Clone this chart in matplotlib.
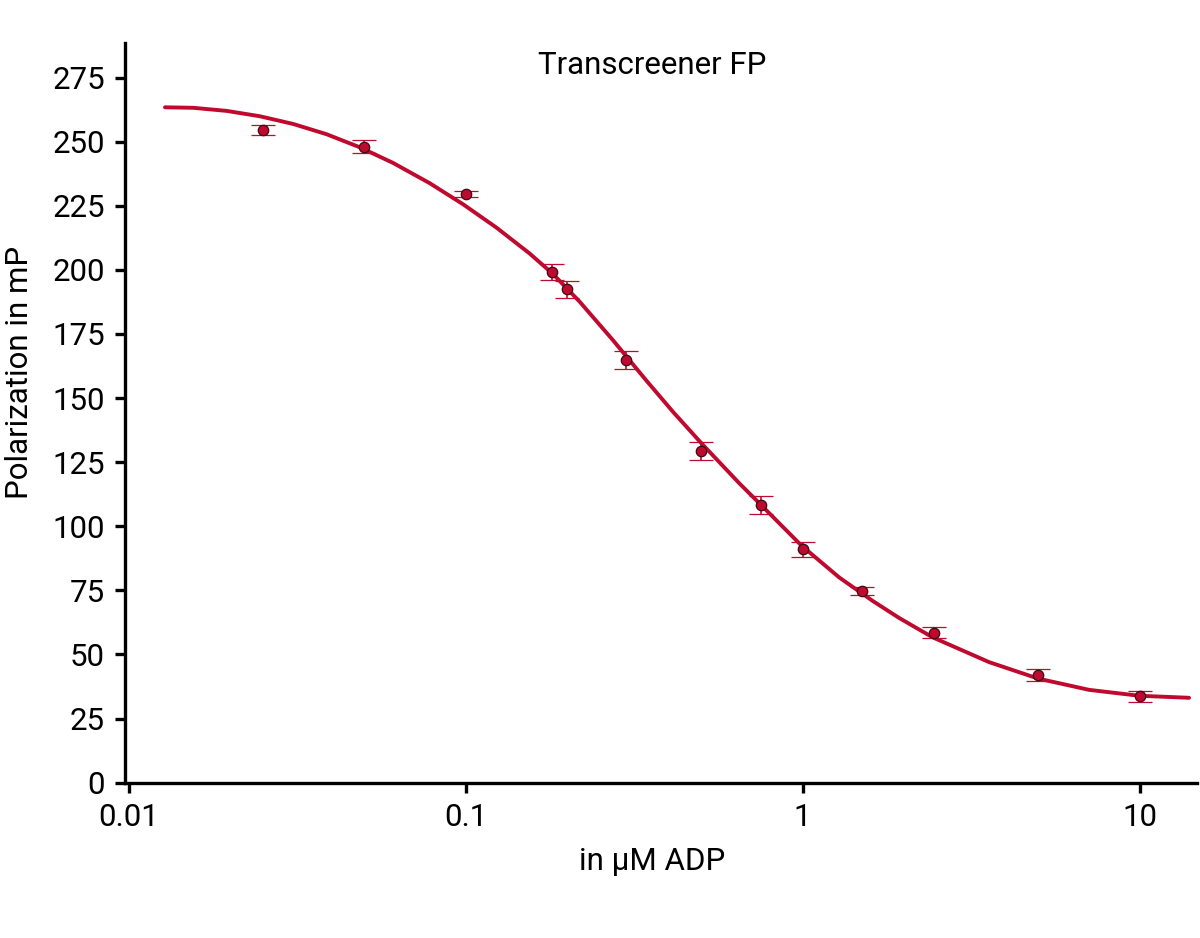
"""Transcreener FP standard curve: polarization vs ADP (log x), with fit line."""
import matplotlib
matplotlib.use("Agg")
import matplotlib.pyplot as plt

plt.rcParams["font.family"] = ["Roboto", "DejaVu Sans"]

RED = "#C0092F"

# measured points (uM ADP, mP, +/- error)
adp_um = [0.025, 0.05, 0.1, 0.18, 0.2, 0.3, 0.5, 0.75, 1.0, 1.5, 2.45, 5.0, 10.0]
mp = [254.5, 248.0, 229.6, 199.1, 192.4, 164.9, 129.5, 108.3, 91.0, 74.8, 58.5, 41.9, 33.7]
mp_err = [2.1, 2.6, 1.3, 3.1, 3.4, 3.4, 3.5, 3.5, 2.9, 1.7, 2.2, 2.3, 2.1]

# fitted curve
fit_x = [0.01281, 0.01554, 0.01952, 0.02451, 0.03076, 0.03864, 0.04849,
         0.06088, 0.0782, 0.09817, 0.1233, 0.1547, 0.1815, 0.2178, 0.2734,
         0.3433, 0.4118, 0.4996, 0.6492, 0.7474, 0.9913, 1.2847, 1.6128,
         1.9354, 2.4288, 3.577, 4.997, 7.079, 9.959, 14.02]
fit_y = [263.4, 263.2, 262.0, 259.9, 256.9, 252.9, 247.8,
         241.7, 233.8, 225.6, 216.5, 206.4, 198.4, 187.6, 172.6,
         156.9, 144.7, 132.5, 116.7, 108.7, 92.5, 80.0, 70.9,
         64.2, 56.7, 47.0, 40.6, 36.2, 33.9, 33.1]

x_ticks = [0.01, 0.1, 1, 10]
x_ticklabels = ["0.01", "0.1", "1", "10"]
y_ticks = list(range(0, 276, 25))

fig = plt.figure(figsize=(12, 9.38), dpi=100)
ax = fig.add_axes([0.1042, 0.1656, 0.8933, 0.7889])

ax.plot(fit_x, fit_y, color=RED, lw=2.8, solid_capstyle="round",
        solid_joinstyle="round", zorder=2)
ax.errorbar(adp_um, mp, yerr=mp_err, fmt="o", ms=7.5, mfc=RED, mec="#3a0a12",
            mew=0.9, ecolor=RED, elinewidth=1.2, capsize=8.3, capthick=1.9,
            zorder=3)

ax.set_xscale("log")
ax.set_xlim(10 ** -2.011, 14.8)
ax.set_ylim(0, 288.6)
ax.set_xticks(x_ticks)
ax.set_xticklabels(x_ticklabels)
ax.xaxis.set_minor_locator(matplotlib.ticker.NullLocator())
ax.set_yticks(y_ticks)

for s in ("top", "right"):
    ax.spines[s].set_visible(False)
for s in ("left", "bottom"):
    ax.spines[s].set_linewidth(2.4)
ax.tick_params(axis="both", which="major", direction="out", length=7.5,
               width=2.4, labelsize=22.5, pad=7)

fig.text(0.5433, 1 - 66 / 938, "Transcreener FP", ha="center", va="center",
         fontsize=22.5)
fig.text(0.5433, 1 - 862 / 938, "in µM ADP", ha="center", va="center",
         fontsize=22.5)
fig.text(20 / 1200, 1 - 372 / 938, "Polarization in mP", ha="center",
         va="center", rotation=90, fontsize=22.5)

fig.savefig("out.png", dpi=100)
